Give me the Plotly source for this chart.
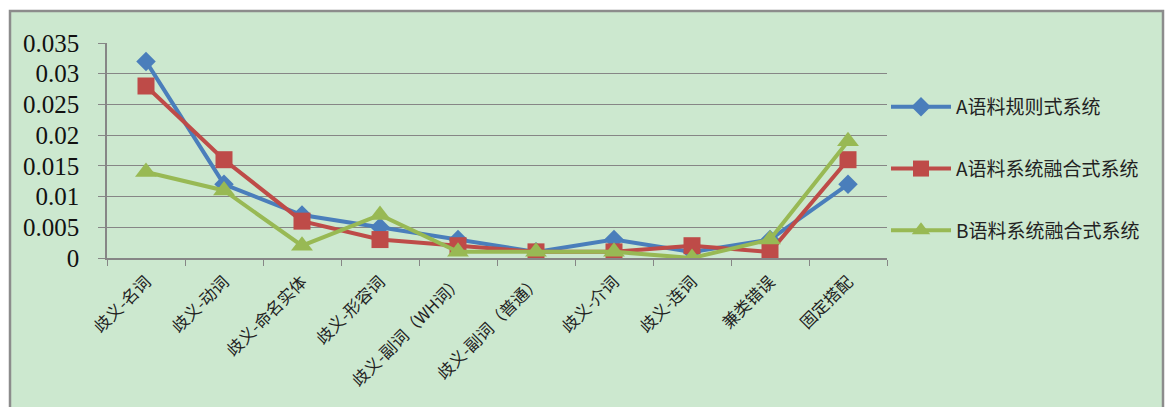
import plotly.graph_objects as go

categories = ["歧义-名词", "歧义-动词", "歧义-命名实体", "歧义-形容词", "歧义-副词（WH词）",
              "歧义-副词（普通）", "歧义-介词", "歧义-连词", "兼类错误", "固定搭配"]
series_names = ["A语料规则式系统", "A语料系统融合式系统", "B语料系统融合式系统"]
a_rule = [0.032, 0.012, 0.007, 0.005, 0.003, 0.001, 0.003, 0.001, 0.003, 0.012]
a_fusion = [0.028, 0.016, 0.006, 0.003, 0.002, 0.001, 0.001, 0.002, 0.001, 0.016]
b_fusion = [0.014, 0.011, 0.002, 0.007, 0.001, 0.001, 0.001, 0.0, 0.003, 0.019]
y_ticks = [0, 0.005, 0.01, 0.015, 0.02, 0.025, 0.03, 0.035]
y_tick_text = ["0", "0.005", "0.01", "0.015", "0.02", "0.025", "0.03", "0.035"]

colors = ["#4A7EBB", "#BE4B48", "#98B954"]
symbols = ["diamond", "square", "triangle-up"]
sizes = [15, 17, 19]

fig = go.Figure()
for i, (name, vals) in enumerate(zip(series_names, [a_rule, a_fusion, b_fusion])):
    fig.add_trace(go.Scatter(
        x=categories, y=vals, name=name, mode="lines+markers",
        legendgroup=f"g{i}",
        line=dict(color=colors[i], width=4),
        marker=dict(symbol=symbols[i], size=sizes[i], color=colors[i]),
    ))

L, R, T, B = 107, 280, 43, 149
W, H = 1167, 407
pw, ph = W - L - R, H - T - B

def px_to_paper_x(px):
    return (px - L) / pw

def px_to_paper_y(py):
    return (H - B - py) / ph

fig.add_shape(type="rect", xref="paper", yref="paper", layer="below",
              x0=px_to_paper_x(10), x1=px_to_paper_x(1163),
              y0=px_to_paper_y(430), y1=px_to_paper_y(11),
              fillcolor="#CCE8CF", line=dict(color="#8C8C8C", width=2.5))

fig.update_layout(
    width=W, height=H,
    margin=dict(l=L, r=R, t=T, b=B, autoexpand=False),
    paper_bgcolor="white", plot_bgcolor="rgba(0,0,0,0)",
    showlegend=True,
    legend=dict(x=px_to_paper_x(886), xanchor="left", y=px_to_paper_y(88), yanchor="top",
                bgcolor="rgba(0,0,0,0)", font=dict(family="Noto Sans CJK SC", size=19, color="#222"),
                tracegroupgap=34, itemwidth=60, traceorder="grouped"),
    font=dict(family="Noto Sans CJK SC", color="#222"),
)
fig.update_xaxes(
    type="category", range=[-0.5, 9.5], tickangle=-45,
    tickfont=dict(family="Noto Sans CJK SC", size=16.5, color="#222"),
    showgrid=False, showline=True, linecolor="#868686", linewidth=1.5,
    ticks="outside", tickson="boundaries", ticklen=6, tickcolor="#868686",
    ticklabelstandoff=6,
)
fig.update_yaxes(
    range=[0, 0.035], tickvals=y_ticks, ticktext=y_tick_text,
    tickfont=dict(family="Liberation Serif", size=25, color="#111"),
    showgrid=True, gridcolor="#868686", gridwidth=1.2,
    showline=True, linecolor="#868686", linewidth=1.5,
    ticks="outside", ticklen=7, tickcolor="#868686", ticklabelstandoff=14,
    zeroline=False,
)
fig.write_html("out.html")
